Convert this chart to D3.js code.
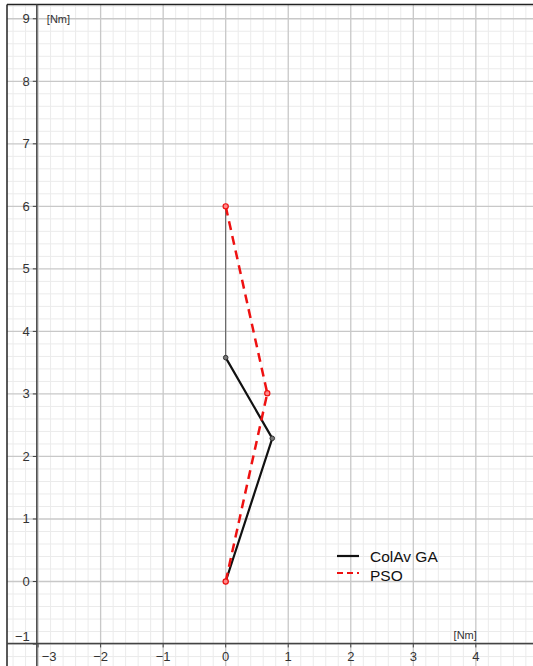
<!DOCTYPE html>
<html>
<head>
<meta charset="utf-8">
<script src="https://cdn.jsdelivr.net/npm/d3@7/dist/d3.min.js"></script>
<style>
  html, body { margin: 0; padding: 0; background: #fff; }
  svg { display: block; }
  text { font-family: "Liberation Sans", Arial, sans-serif; }
</style>
</head>
<body>
<svg id="chart" width="533" height="666"></svg>
<script>
// Torque vectors [Nm]: head-to-tail polylines for each optimiser
const colavX = [0, 0.745, 0];
const colavY = [0, 2.29, 3.58];
const psoX = [0, 0.665, 0];
const psoY = [0, 3.01, 6.0];

const xTicks = [-3, -2, -1, 0, 1, 2, 3, 4];
const yTicks = [-1, 0, 1, 2, 3, 4, 5, 6, 7, 8, 9];
const seriesNames = ["ColAv GA", "PSO"];
const unitLabel = "[Nm]";

const svg = d3.select("#chart");
const W = 533, H = 666;
const frameL = 7, frameT = 4.5;

// equal-aspect view window
const x = d3.scaleLinear().domain([-3.497, 4.914]).range([frameL, W]);
const y = d3.scaleLinear().domain([-1.351, 9.228]).range([H, frameT]);

const axisX0 = -3.02;   // where the vertical axis sits
const axisY0 = -0.99;   // where the horizontal axis sits

const g = svg.append("g");

// minor grid
const minor = d3.range(-3.4, 5.0, 0.2).map(v => +v.toFixed(1));
const minorY = d3.range(-1.2, 9.3, 0.2).map(v => +v.toFixed(1));
g.selectAll(".mx").data(minor.filter(v => Math.abs(v - Math.round(v)) > 1e-6)).join("line")
  .attr("x1", d => x(d)).attr("x2", d => x(d)).attr("y1", frameT).attr("y2", H)
  .attr("stroke", "#ebebeb").attr("stroke-width", 1);
g.selectAll(".my").data(minorY.filter(v => Math.abs(v - Math.round(v)) > 1e-6)).join("line")
  .attr("y1", d => y(d)).attr("y2", d => y(d)).attr("x1", frameL).attr("x2", W)
  .attr("stroke", "#ebebeb").attr("stroke-width", 1);

// major grid
g.selectAll(".Mx").data(d3.range(-3, 5)).join("line")
  .attr("x1", d => x(d)).attr("x2", d => x(d)).attr("y1", frameT).attr("y2", H)
  .attr("stroke", "#c8c8c8").attr("stroke-width", 1.3);
g.selectAll(".My").data(d3.range(-1, 10)).join("line")
  .attr("y1", d => y(d)).attr("y2", d => y(d)).attr("x1", frameL).attr("x2", W)
  .attr("stroke", "#c8c8c8").attr("stroke-width", 1.3);

// frame edges
svg.append("line").attr("x1", frameL).attr("x2", frameL).attr("y1", frameT).attr("y2", H)
  .attr("stroke", "#222").attr("stroke-width", 1.5);
svg.append("line").attr("x1", frameL).attr("x2", W).attr("y1", frameT).attr("y2", frameT)
  .attr("stroke", "#222").attr("stroke-width", 1.5);

// axes
svg.append("line").attr("x1", x(axisX0)).attr("x2", x(axisX0)).attr("y1", frameT).attr("y2", H)
  .attr("stroke", "#444").attr("stroke-width", 1.5);
svg.append("line").attr("x1", frameL).attr("x2", W).attr("y1", y(axisY0)).attr("y2", y(axisY0))
  .attr("stroke", "#444").attr("stroke-width", 1.5);

// tick marks
svg.selectAll(".tx").data(xTicks).join("line")
  .attr("x1", d => x(d)).attr("x2", d => x(d))
  .attr("y1", y(axisY0)).attr("y2", y(axisY0) + 4)
  .attr("stroke", "#444").attr("stroke-width", 1);
svg.selectAll(".ty").data(yTicks).join("line")
  .attr("y1", d => y(d)).attr("y2", d => y(d))
  .attr("x1", x(axisX0) - 4).attr("x2", x(axisX0))
  .attr("stroke", "#444").attr("stroke-width", 1);

// tick labels
svg.selectAll(".lx").data(xTicks).join("text")
  .attr("x", d => d === -3 ? x(d) + 11 : x(d))
  .attr("y", y(axisY0) + 18)
  .attr("text-anchor", "middle")
  .attr("font-size", 13).attr("fill", "#333")
  .text(d => d < 0 ? "\u2212" + Math.abs(d) : d);
svg.selectAll(".ly").data(yTicks).join("text")
  .attr("x", x(axisX0) - 7)
  .attr("y", d => d === -1 ? y(d) - 3 : y(d) + 4.5)
  .attr("text-anchor", "end")
  .attr("font-size", 13).attr("fill", "#333")
  .text(d => d < 0 ? "\u2212" + Math.abs(d) : d);

// unit labels
svg.append("text").attr("x", x(axisX0) + 10).attr("y", y(9) + 4.5)
  .attr("font-size", 11).attr("fill", "#333").text(unitLabel);
svg.append("text").attr("x", x(4) + 1).attr("y", y(axisY0) - 4)
  .attr("text-anchor", "end")
  .attr("font-size", 11).attr("fill", "#333").text(unitLabel);

const line = d3.line().x(d => x(d[0])).y(d => y(d[1]));
const colav = colavX.map((v, i) => [v, colavY[i]]);
const pso = psoX.map((v, i) => [v, psoY[i]]);

// thin link between the two resultant tips
svg.append("path").datum([colav[2], pso[2]]).attr("d", line)
  .attr("fill", "none").attr("stroke", "#555").attr("stroke-width", 1);

svg.append("path").datum(colav).attr("d", line)
  .attr("fill", "none").attr("stroke", "#111").attr("stroke-width", 2.2)
  .attr("stroke-linejoin", "round");
svg.append("path").datum(pso).attr("d", line)
  .attr("fill", "none").attr("stroke", "#ee1111").attr("stroke-width", 2.5)
  .attr("stroke-dasharray", "9,6");

svg.selectAll(".pc").data(colav).join("circle")
  .attr("cx", d => x(d[0])).attr("cy", d => y(d[1])).attr("r", 2.3)
  .attr("fill", "#777").attr("stroke", "#333").attr("stroke-width", 1);
svg.selectAll(".pp").data(pso).join("circle")
  .attr("cx", d => x(d[0])).attr("cy", d => y(d[1])).attr("r", 2.6)
  .attr("fill", "#f88").attr("stroke", "#e11").attr("stroke-width", 1.2);

// legend
const lg = svg.append("g").attr("transform", "translate(337,556)");
lg.append("line").attr("x1", 0).attr("x2", 22).attr("y1", 0).attr("y2", 0)
  .attr("stroke", "#111").attr("stroke-width", 2.2);
lg.append("line").attr("x1", 0).attr("x2", 22).attr("y1", 17).attr("y2", 17)
  .attr("stroke", "#ee1111").attr("stroke-width", 2.2).attr("stroke-dasharray", "6,4");
lg.selectAll("text").data(seriesNames).join("text")
  .attr("x", 33).attr("y", (d, i) => i * 19 + 5.5)
  .attr("font-size", 15.5).attr("fill", "#111").text(d => d);
</script>
</body>
</html>
